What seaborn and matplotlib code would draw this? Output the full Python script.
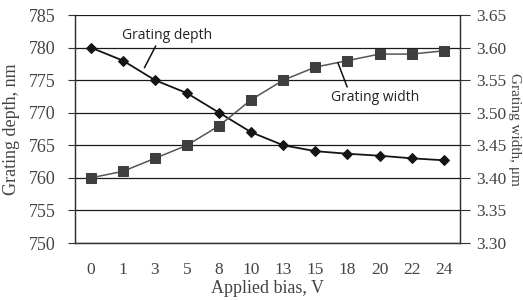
import numpy as np
import pandas as pd
import matplotlib
matplotlib.use("Agg")
import matplotlib.pyplot as plt
import seaborn as sns

bias = ["0", "1", "3", "5", "8", "10", "13", "15", "18", "20", "22", "24"]
depth = [780, 778, 775, 773, 770, 767, 765, 764.1, 763.7, 763.4, 763.0, 762.7]
width = [3.40, 3.41, 3.43, 3.45, 3.48, 3.52, 3.55, 3.57, 3.58, 3.59, 3.59, 3.595]

df = pd.DataFrame({"pos": np.arange(len(bias)), "depth": depth, "width": width})

sns.set_style("white")
plt.rcParams["font.family"] = ["Liberation Serif", "DejaVu Serif"]

fig = plt.figure(figsize=(5.23, 3.0), dpi=100)
ax = fig.add_axes([0.143, 0.19, 0.736, 0.76])
ax2 = ax.twinx()

sns.lineplot(data=df, x="pos", y="depth", ax=ax, color="#151515", lw=1.3,
             marker="D", markersize=5, markeredgecolor="#151515", zorder=3)
sns.lineplot(data=df, x="pos", y="width", ax=ax2, color="#555555", lw=1.1,
             marker="s", markersize=7, markerfacecolor="#3f3f3f",
             markeredgecolor="#3f3f3f", zorder=3)

grey = "#444444"
ax.set_xlim(-0.5, len(bias) - 0.5)
ax.set_ylim(750, 785)
ax2.set_ylim(3.30, 3.65)
ax.set_yticks(np.arange(750, 786, 5))
ax2.set_yticks(np.arange(3.30, 3.651, 0.05))
ax2.set_yticklabels([f"{v:.2f}" for v in np.arange(3.30, 3.651, 0.05)])

ax.set_xticks(np.arange(-0.5, len(bias), 1))
ax.set_xticklabels([])
ax.set_xticks(np.arange(len(bias)), minor=True)
ax.set_xticklabels(bias, minor=True)
ax.tick_params(axis="x", which="major", direction="out", length=5, width=0.8, color="#333333")
ax.tick_params(axis="x", which="minor", length=0, pad=14, labelsize=12.5, labelcolor=grey)
ax.tick_params(axis="y", direction="out", length=5, width=0.8, color="#333333",
               labelsize=13, labelcolor=grey, pad=9)
ax2.tick_params(axis="y", direction="out", length=7, width=0.8, color="#333333",
                labelsize=12.5, labelcolor=grey, pad=5)

ax.yaxis.grid(True, color="#1a1a1a", lw=0.9)
ax.set_axisbelow(True)
for a in (ax, ax2):
    a.spines["top"].set_visible(False)
    for s in ("left", "right", "bottom"):
        a.spines[s].set_color("#333333")
        a.spines[s].set_linewidth(0.9)

ax.set_xlabel("Applied bias, V", fontsize=13, color=grey, labelpad=1)
ax.set_ylabel("Grating depth, nm", fontsize=13, color=grey, labelpad=6)
ax2.set_ylabel("Grating width, \u03bcm", fontsize=11, color=grey, rotation=270, labelpad=10)

ax.annotate("Grating depth", xy=(1.67, 776.9), xytext=(0.98, 781.9),
            fontsize=10, color="#222222", family="Open Sans", va="center",
            arrowprops=dict(arrowstyle="-", color="#111111", lw=1.1,
                            shrinkA=0, shrinkB=0, relpos=(0.39, 0)))
ax2.annotate("Grating width", xy=(7.7, 3.577), xytext=(7.48, 3.523),
             fontsize=10, color="#222222", family="Open Sans", va="center",
             arrowprops=dict(arrowstyle="-", color="#111111", lw=1.1,
                             shrinkA=0, shrinkB=0, relpos=(0.2, 1)))

fig.savefig("out.png", dpi=100)
